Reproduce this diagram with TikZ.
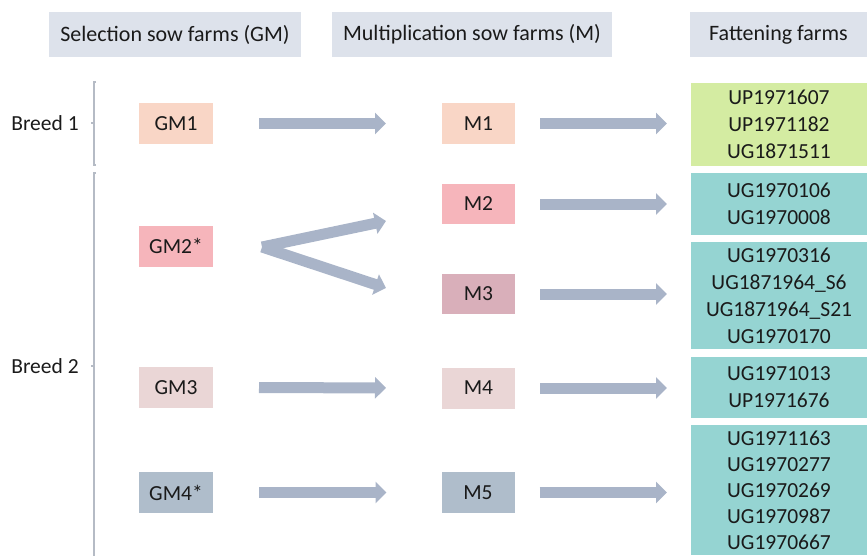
\documentclass[tikz,border=0pt]{standalone}
\usepackage{fontspec}
\setmainfont{Carlito}
\usetikzlibrary{arrows.meta}
\definecolor{hdrc}{HTML}{DDE2EB}
\definecolor{peach}{HTML}{F9D6C6}
\definecolor{pinkc}{HTML}{F6B5BB}
\definecolor{dusty}{HTML}{D9AFBA}
\definecolor{rosegray}{HTML}{EAD6D6}
\definecolor{bluegray}{HTML}{AFBDCB}
\definecolor{greenc}{HTML}{D4ECA2}
\definecolor{tealc}{HTML}{95D4D2}
\definecolor{arrc}{HTML}{A9B4C8}
\definecolor{brk}{HTML}{B5BBC5}
\definecolor{txt}{HTML}{1A1A1A}
\begin{document}
\begin{tikzpicture}[x=1pt,y=-1pt,
  every node/.style={text=txt, inner sep=0pt, outer sep=0pt},
  hdr/.style={fill=hdrc, minimum height=45pt, font=\fontsize{22}{26}\selectfont},
  farm/.style={minimum width=74pt, minimum height=41pt, font=\fontsize{21.5}{26}\selectfont},
  fat/.style={minimum width=176pt, align=center, font=\fontsize{21.5}{27}\selectfont},
  lbl/.style={font=\fontsize{21.5}{26}\selectfont},
  arr/.style={draw=arrc, line width=11pt, -{Triangle[length=11pt,width=21pt]}, arrc},
  brack/.style={draw=brk, line width=1.2pt}]
\useasboundingbox (0,0) rectangle (867,555);
\clip (0,0) rectangle (867,555);
% headers
\node[hdr, minimum width=252pt] (h1) at (175,34.5) {Selection sow farms (GM)};
\node[hdr, minimum width=280pt] (h2) at (472,34.5) {Multiplication sow farms (M)};
\node[hdr, minimum width=177pt] (h3) at (778.5,34.5) {Fattening farms};
% breed labels
\node[lbl] (b1) at (45,123) {Breed 1};
\node[lbl] (b2) at (45,366) {Breed 2};
\draw[brack] (96,82) -- (94,82) -- (94,165) -- (96,165);
\draw[brack] (94,123) -- (91,123);
\draw[brack] (96,173) -- (94,173) -- (94,570);
\draw[brack] (94,366) -- (91,366);
% GM
\node[farm, fill=peach] (gm1) at (176,123.5) {GM1};
\node[farm, fill=pinkc] (gm2) at (176,246) {GM2*};
\node[farm, fill=rosegray] (gm3) at (176,387.5) {GM3};
\node[farm, fill=bluegray] (gm4) at (176,492.5) {GM4*};
% M
\node[farm, minimum width=73pt, fill=peach] (m1) at (478.5,123.5) {M1};
\node[farm, minimum width=73pt, minimum height=40pt, fill=pinkc] (m2) at (478.5,204) {M2};
\node[farm, minimum width=73pt, minimum height=40pt, fill=dusty] (m3) at (478.5,294) {M3};
\node[farm, minimum width=73pt, fill=rosegray] (m4) at (478.5,388) {M4};
\node[farm, minimum width=73pt, fill=bluegray] (m5) at (478,492.5) {M5};
% fattening
\node[fat, fill=greenc, minimum height=83pt] (f1) at (779,124.5) {UP1971607\\UP1971182\\UG1871511};
\node[fat, fill=tealc, minimum height=62pt] (f2) at (779,204) {UG1970106\\UG1970008};
\node[fat, fill=tealc, minimum height=107pt] (f3) at (779,295.5) {UG1970316\\UG1871964\_S6\\UG1871964\_S21\\UG1970170};
\node[fat, fill=tealc, minimum height=61pt] (f4) at (779,387.5) {UG1971013\\UP1971676};
\node[fat, fill=tealc, minimum height=130pt, font=\fontsize{21.5}{26}\selectfont] (f5) at (779,490) {UG1971163\\UG1970277\\UG1970269\\UG1970987\\UG1970667};
% arrows GM -> M
\draw[arr, shorten <=46pt, shorten >=56pt] (gm1.east) -- (m1.west);
\draw[arr, shorten <=46pt, shorten >=56pt] (gm3.east) -- (m4.west);
\draw[arr, shorten <=46pt, shorten >=55pt] (gm4.east) -- (m5.west);
\coordinate (fork) at (262,247);
\coordinate (t2) at (386,221);
\coordinate (t3) at (386,288);
\draw[arr] (fork) -- (t2);
\draw[arr] (fork) -- (t3);
% arrows M -> F
\draw[arr, shorten <=25pt, shorten >=24pt] (m1.east) -- (f1.west |- m1.east);
\draw[arr, shorten <=25pt, shorten >=24pt] (m2.east) -- (f2.west |- m2.east);
\draw[arr, shorten <=25pt, shorten >=24pt] (m3.east) -- (f3.west |- m3.east);
\draw[arr, shorten <=25pt, shorten >=24pt] (m4.east) -- (f4.west |- m4.east);
\draw[arr, shorten <=25pt, shorten >=24pt] (m5.east) -- (m5.east -| f5.west);
\end{tikzpicture}
\end{document}
